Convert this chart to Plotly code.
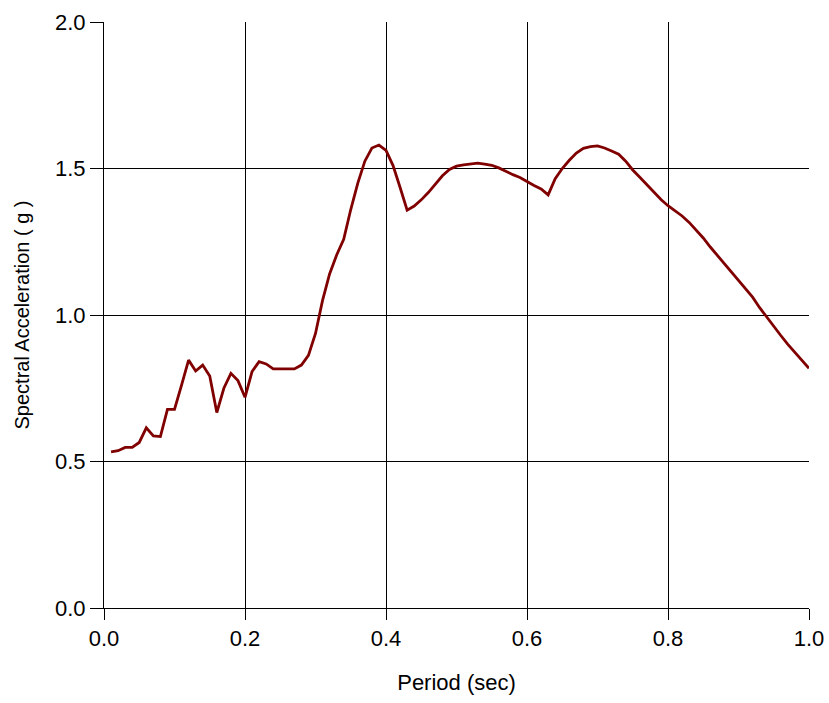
import plotly.graph_objects as go

period = [0.01,0.02,0.03,0.04,0.05,0.06,0.07,0.08,0.09,0.10,
          0.11,0.12,0.13,0.14,0.15,0.16,0.17,0.18,0.19,0.20,
          0.21,0.22,0.23,0.24,0.25,0.26,0.27,0.28,0.29,0.30,
          0.31,0.32,0.33,0.34,0.35,0.36,0.37,0.38,0.39,0.40,
          0.41,0.42,0.43,0.44,0.45,0.46,0.47,0.48,0.49,0.50,
          0.51,0.52,0.53,0.54,0.55,0.56,0.57,0.58,0.59,0.60,
          0.61,0.62,0.63,0.64,0.65,0.66,0.67,0.68,0.69,0.70,
          0.71,0.72,0.73,0.74,0.75,0.76,0.77,0.78,0.79,0.80,
          0.81,0.82,0.83,0.84,0.85,0.86,0.87,0.88,0.89,0.90,
          0.91,0.92,0.93,0.94,0.95,0.96,0.97,0.98,0.99,1.00]

sa = [0.533,0.537,0.548,0.548,0.565,0.615,0.587,0.585,0.678,0.678,
      0.761,0.846,0.809,0.829,0.792,0.667,0.750,0.801,0.776,0.719,
      0.807,0.841,0.833,0.816,0.816,0.816,0.816,0.829,0.862,0.937,
      1.050,1.140,1.205,1.258,1.360,1.450,1.525,1.570,1.580,1.562,
      1.510,1.435,1.358,1.372,1.393,1.418,1.445,1.475,1.497,1.508,
      1.512,1.516,1.518,1.515,1.511,1.502,1.490,1.479,1.469,1.455,
      1.442,1.430,1.410,1.465,1.500,1.528,1.553,1.569,1.575,1.577,
      1.570,1.560,1.549,1.525,1.495,1.470,1.445,1.418,1.394,1.373,
      1.356,1.338,1.316,1.290,1.263,1.232,1.203,1.178,1.147,1.117,
      1.090,1.061,1.025,0.992,0.960,0.930,0.900,0.872,0.845,0.818]

x_ticks = [0.0, 0.2, 0.4, 0.6, 0.8, 1.0]
y_ticks = [0.0, 0.5, 1.0, 1.5, 2.0]

fig = go.Figure()
fig.add_trace(go.Scatter(x=period, y=sa, mode="lines",
                         line=dict(color="#800000", width=2.8),
                         showlegend=False))

font_family = "Liberation Sans, Arial, sans-serif"
fig.update_layout(
    width=829, height=703,
    margin=dict(l=104, r=20, t=22, b=95, pad=0, autoexpand=False),
    paper_bgcolor="white", plot_bgcolor="white",
    font=dict(family=font_family, color="black", size=22),
)
fig.update_xaxes(
    range=[0, 1.0], tickvals=x_ticks, ticktext=[f"{v:.1f}" for v in x_ticks],
    showgrid=True, gridcolor="black", gridwidth=1,
    showline=True, linecolor="black", linewidth=1,
    ticks="outside", ticklen=11, tickcolor="black",
    zeroline=False, automargin=False,
    tickfont=dict(size=22),
    title=dict(text="Period (sec)", font=dict(size=22), standoff=24),
)
fig.update_yaxes(
    range=[0, 2.0], tickvals=y_ticks, ticktext=[f"{v:.1f}" for v in y_ticks],
    showgrid=True, gridcolor="black", gridwidth=1,
    showline=True, linecolor="black", linewidth=1,
    ticks="outside", ticklen=13, tickcolor="black",
    zeroline=False, automargin=False,
    tickfont=dict(size=22),
    title=dict(text="Spectral Acceleration ( g )", font=dict(size=20), standoff=20),
)

fig.write_html("out.html")
